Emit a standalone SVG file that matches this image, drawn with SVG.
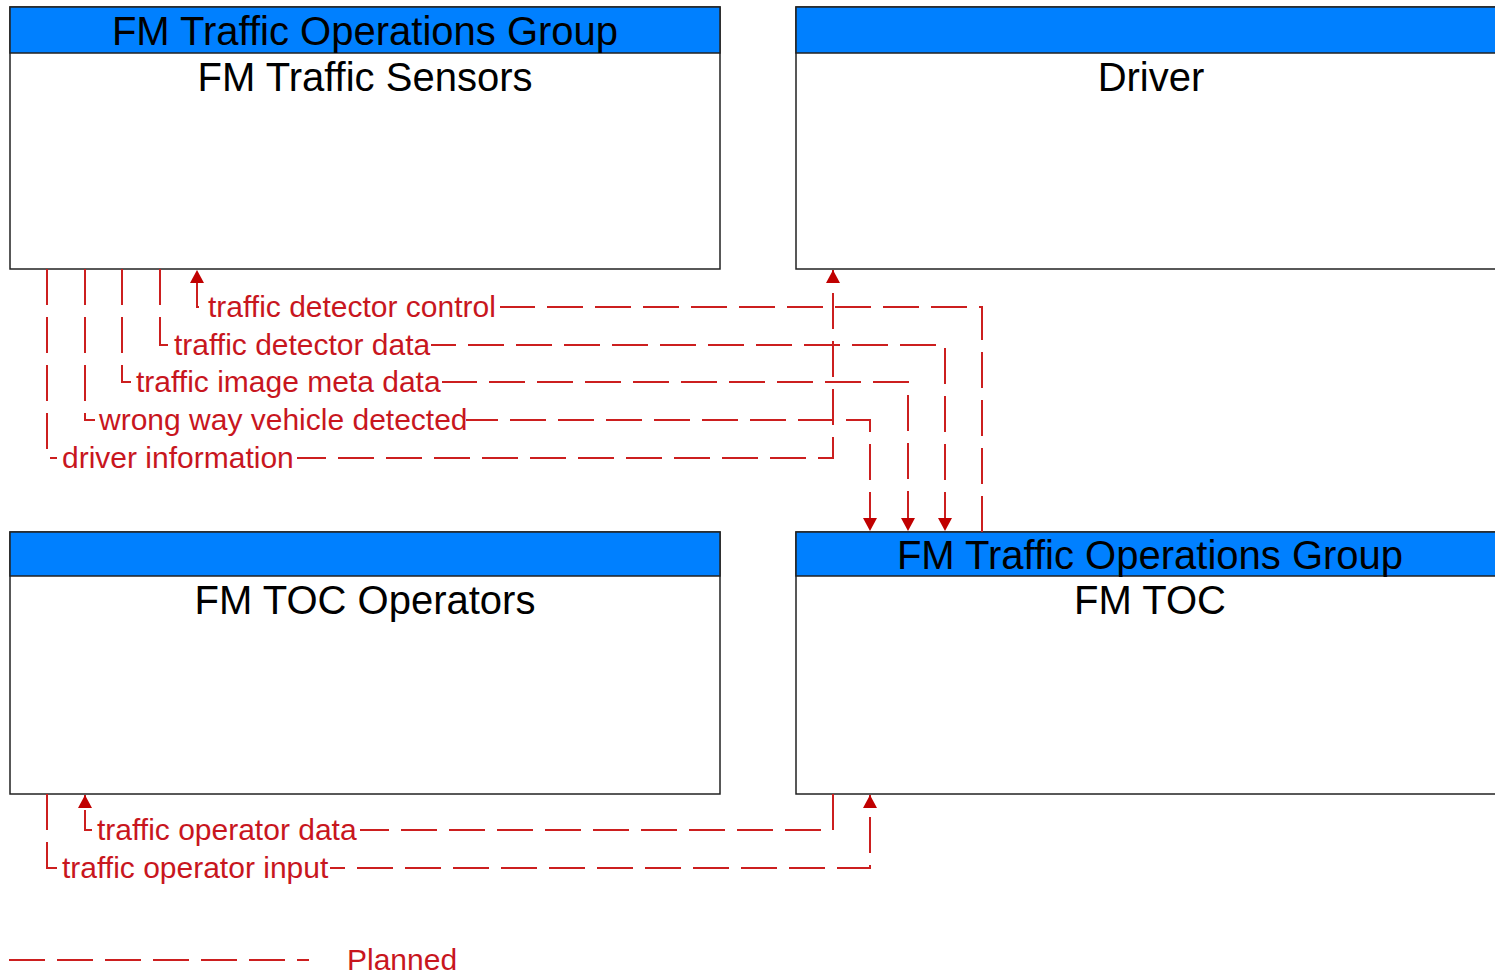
<svg xmlns="http://www.w3.org/2000/svg" width="1495" height="974" viewBox="0 0 1495 974">
<defs>
<style>
.box{fill:#fff;stroke:#222;stroke-width:1.5}
.hdr{fill:#0080ff;stroke:#222;stroke-width:1.5}
.t40{font-family:"Liberation Sans",Arial,sans-serif;font-size:40px;fill:#000;text-anchor:middle}
.flow{fill:none;stroke:#cc1f1f;stroke-width:2;stroke-dasharray:36 12}
.lbl{font-family:"Liberation Sans",Arial,sans-serif;font-size:30px;fill:#c8161e}
.bg{fill:#fff}
</style>
<marker id="ah" viewBox="0 0 13 14" refX="13" refY="7" markerWidth="13" markerHeight="14" markerUnits="userSpaceOnUse" orient="auto">
<path d="M0,0 L13,7 L0,14 Z" fill="#c00000"/>
</marker>
</defs>
<rect width="1495" height="974" fill="#fff"/>
<g id="node-sensors">
<rect class="box" x="10" y="7" width="710" height="262"/>
<rect class="hdr" x="10" y="7" width="710" height="46"/>
<text class="t40" x="365" y="45">FM Traffic Operations Group</text>
<text class="t40" x="365" y="91">FM Traffic Sensors</text>
</g>
<g id="node-driver">
<rect class="box" x="796" y="7" width="710" height="262"/>
<rect class="hdr" x="796" y="7" width="710" height="46"/>
<text class="t40" x="1151" y="91">Driver</text>
</g>
<g id="node-operators">
<rect class="box" x="10" y="532" width="710" height="262"/>
<rect class="hdr" x="10" y="532" width="710" height="44"/>
<text class="t40" x="365" y="614">FM TOC Operators</text>
</g>
<g id="node-toc">
<rect class="box" x="796" y="532" width="710" height="262"/>
<rect class="hdr" x="796" y="532" width="710" height="44"/>
<text class="t40" x="1150" y="569">FM Traffic Operations Group</text>
<text class="t40" x="1150" y="614">FM TOC</text>
</g>
<g id="connectors">
<path class="flow" d="M982,532 V307 H197 V270" marker-end="url(#ah)"/>
<path class="flow" d="M160,269 V345 H945 V531" marker-end="url(#ah)"/>
<path class="flow" d="M122,269 V382 H908 V531" marker-end="url(#ah)"/>
<path class="flow" d="M85,269 V420 H870 V531" marker-end="url(#ah)"/>
<path class="flow" d="M47,269 V458 H833 V270" marker-end="url(#ah)"/>
<path class="flow" d="M833,794 V830 H85 V795" marker-end="url(#ah)"/>
<path class="flow" d="M47,794 V868 H870 V795" marker-end="url(#ah)"/>
<rect class="bg" x="203" y="296" width="297" height="24"/>
<text class="lbl" x="208" y="317">traffic detector control</text>
<rect class="bg" x="169" y="334" width="262" height="24"/>
<text class="lbl" x="174" y="355">traffic detector data</text>
<rect class="bg" x="131" y="371" width="311" height="24"/>
<text class="lbl" x="136" y="392">traffic image meta data</text>
<rect class="bg" x="95" y="409" width="371" height="24"/>
<text class="lbl" x="99" y="430">wrong way vehicle detected</text>
<rect class="bg" x="57" y="447" width="240" height="24"/>
<text class="lbl" x="62" y="468">driver information</text>
<rect class="bg" x="92" y="819" width="268" height="24"/>
<text class="lbl" x="97" y="840">traffic operator data</text>
<rect class="bg" x="57" y="857" width="273" height="24"/>
<text class="lbl" x="62" y="878">traffic operator input</text>
</g>
<g id="legend">
<path class="flow" d="M9,960 H309"/>
<text class="lbl" x="347" y="970">Planned</text>
</g>
</svg>
